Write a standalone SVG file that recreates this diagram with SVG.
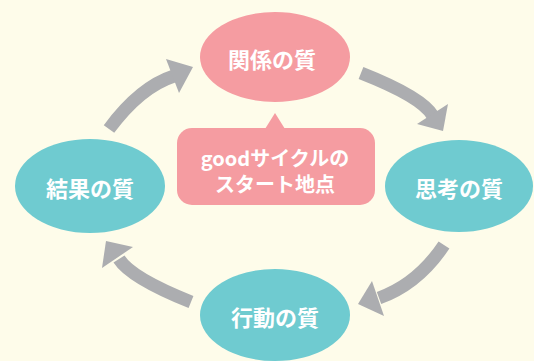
<svg xmlns="http://www.w3.org/2000/svg" width="534" height="361" viewBox="0 0 534 361">
<style>
.bg{fill:#FEFCEA}
.pink{fill:#F59CA1}
.teal{fill:#6FCBD0}
.lbl{font-family:"Noto Sans CJK JP","Noto Sans",sans-serif;font-weight:bold;fill:#FFFFFF;text-anchor:middle;dominant-baseline:central}
.shaft{fill:none;stroke:#ACADB0;stroke-width:13}
.head{fill:#ACADB0}
</style>
<rect class="bg" x="0" y="0" width="534" height="361"/>
<g id="connectors">
<path class="shaft" d="M109,129 Q140,87 174,76"/>
<polygon class="head" points="166,59 193,67 179,93"/>
<path class="shaft" d="M361,73 Q422,97 433,116"/>
<polygon class="head" points="417,124 443,131 448,104"/>
<path class="shaft" d="M444,245 Q418,284 379,298"/>
<polygon class="head" points="372,281 358,304 384,316"/>
<path class="shaft" d="M191,302 Q131,278 119,259"/>
<polygon class="head" points="133,247 106,241 102,268"/>
</g>
<g id="node-kankei">
<ellipse class="pink" cx="275" cy="57" rx="75" ry="45"/>
<text class="lbl" x="272" y="58" font-size="22">関係の質</text>
</g>
<g id="node-shikou">
<ellipse class="teal" cx="459" cy="186" rx="74" ry="46"/>
<text class="lbl" x="459" y="187" font-size="22">思考の質</text>
</g>
<g id="node-koudou">
<ellipse class="teal" cx="275" cy="315" rx="75" ry="46"/>
<text class="lbl" x="275" y="316" font-size="22">行動の質</text>
</g>
<g id="node-kekka">
<ellipse class="teal" cx="90" cy="186" rx="75" ry="47"/>
<text class="lbl" x="90" y="187" font-size="22">結果の質</text>
</g>
<g id="node-start">
<path class="pink" d="M265,129 L275,113 L285,129 Z"/>
<rect class="pink" x="177" y="128" width="198" height="77" rx="15"/>
<text class="lbl" x="275" y="157" font-size="20">goodサイクルの</text>
<text class="lbl" x="275" y="183" font-size="20">スタート地点</text>
</g>
</svg>
